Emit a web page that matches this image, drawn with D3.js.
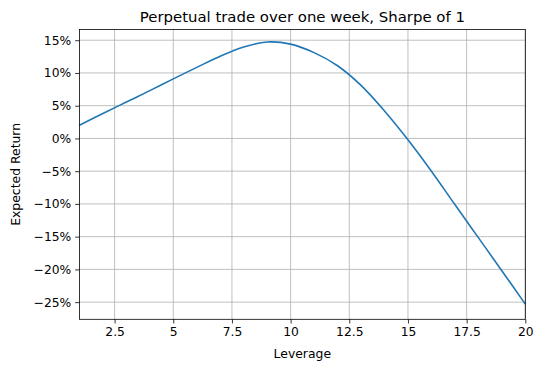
<!DOCTYPE html>
<html>
<head>
<meta charset="utf-8">
<script src="https://cdn.jsdelivr.net/npm/d3@7"></script>
<style>
  body { margin: 0; background: #fff; }
  svg { font-family: "DejaVu Sans", sans-serif; }
</style>
</head>
<body>
<svg width="543" height="371"></svg>
<script>
// leverage vs expected return (%)
const leverage = [1, 2, 3, 4, 5, 6, 7, 8, 9, 10, 11, 12, 13, 14, 15, 16, 17, 18, 19, 20];
const expectedReturn = [2.0, 3.8, 5.55, 7.3, 9.1, 10.85, 12.55, 13.97, 14.72, 14.4, 13.1, 11.1, 8.1, 4.2, -0.2, -5.0, -10.1, -15.15, -20.2, -25.3];
const xTicks = [2.5, 5, 7.5, 10, 12.5, 15, 17.5, 20];
const yTicks = [-25, -20, -15, -10, -5, 0, 5, 10, 15];

let svg = d3.select("svg");
let margin = { left: 79.4, right: 543 - 525.3, top: 29.4, bottom: 371 - 319.3 };
let width = 543, height = 371;

let x = d3.scaleLinear().domain([1, 20]).range([margin.left, width - margin.right]);
let y = d3.scaleLinear().domain([-27.62, 16.65]).range([height - margin.bottom, margin.top]);

const minus = s => String(s).replace("-", "\u2212");

// grid
let grid = svg.append("g").attr("stroke", "#b0b0b0").attr("stroke-width", 0.8);
grid.selectAll(".vx").data(xTicks).enter().append("line")
  .attr("x1", d => x(d)).attr("x2", d => x(d))
  .attr("y1", y.range()[0]).attr("y2", y.range()[1]);
grid.selectAll(".hy").data(yTicks).enter().append("line")
  .attr("y1", d => y(d)).attr("y2", d => y(d))
  .attr("x1", x.range()[0]).attr("x2", x.range()[1]);

// line
let line = d3.line()
  .x((d, i) => x(leverage[i]))
  .y(d => y(d))
  .curve(d3.curveCatmullRom.alpha(0.5));

svg.append("path")
  .datum(expectedReturn)
  .attr("fill", "none")
  .attr("stroke", "#1f77b4")
  .attr("stroke-width", 1.6)
  .attr("d", line);

// axes
let xAxis = d3.axisBottom(x).tickValues(xTicks).tickSize(4.2).tickPadding(4)
  .tickFormat(d => d3.format("~g")(d));
let yAxis = d3.axisLeft(y).tickValues(yTicks).tickSize(4.2).tickPadding(4)
  .tickFormat(d => minus(d) + "%");

let gx = svg.append("g")
  .attr("transform", `translate(0,${y.range()[0]})`)
  .call(xAxis);
let gy = svg.append("g")
  .attr("transform", `translate(${x.range()[0]},0)`)
  .call(yAxis);

[gx, gy].forEach(g => {
  g.select(".domain").remove();
  g.selectAll(".tick line").attr("stroke", "#000").attr("stroke-width", 0.8);
  g.selectAll(".tick text").attr("fill", "#000").style("font-size", "12.3px")
    .style("font-family", "DejaVu Sans");
});

// frame
svg.append("rect")
  .attr("x", x.range()[0]).attr("y", y.range()[1])
  .attr("width", x.range()[1] - x.range()[0])
  .attr("height", y.range()[0] - y.range()[1])
  .attr("fill", "none").attr("stroke", "#000").attr("stroke-width", 0.8);

// labels
svg.append("text")
  .attr("x", (x.range()[0] + x.range()[1]) / 2)
  .attr("y", 22)
  .attr("text-anchor", "middle")
  .style("font-size", "14.9px")
  .text("Perpetual trade over one week, Sharpe of 1");

svg.append("text")
  .attr("x", (x.range()[0] + x.range()[1]) / 2)
  .attr("y", 358)
  .attr("text-anchor", "middle")
  .style("font-size", "12.4px")
  .text("Leverage");

svg.append("text")
  .attr("transform", `translate(20,${(y.range()[0] + y.range()[1]) / 2}) rotate(-90)`)
  .attr("text-anchor", "middle")
  .style("font-size", "12.4px")
  .text("Expected Return");
</script>
</body>
</html>
